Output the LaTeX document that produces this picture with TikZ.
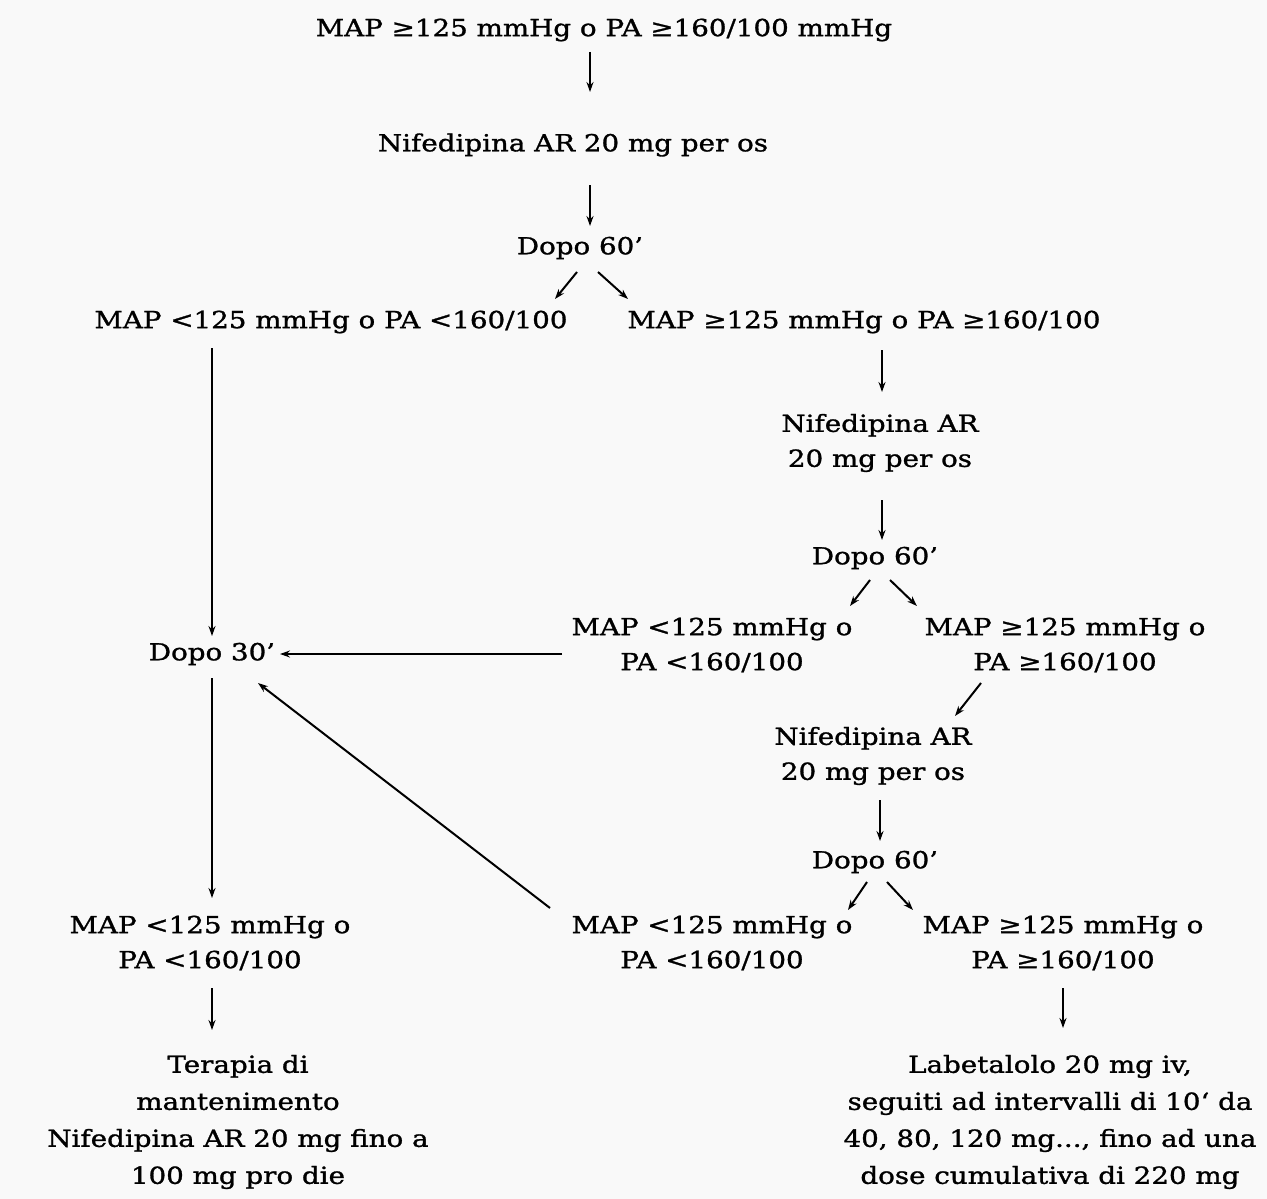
\documentclass[tikz,border=0pt]{standalone}
\usepackage{fontspec}
\setmainfont[FakeStretch=1.18,FakeBold=1.2]{DejaVu Serif}
\usetikzlibrary{arrows.meta,calc}
\begin{document}
\begin{tikzpicture}[x=1pt,y=-1pt,
  lbl/.style={inner sep=0pt,align=center,font=\fontsize{23.5}{35}\selectfont},
  lbl4/.style={inner sep=0pt,align=center,font=\fontsize{23.5}{37}\selectfont},
  arr/.style={-{Stealth[length=10pt,width=7pt]},line width=2pt}]
\fill[gray!5] (0,0) rectangle (1267,1199);
\useasboundingbox (0,0) rectangle (1267,1199);
\node[lbl] (t1) at (604,30) {MAP ≥125 mmHg o PA ≥160/100 mmHg};
\node[lbl] (n1) at (573,145) {Nifedipina AR 20 mg per os};
\node[lbl] (d1) at (580,248) {Dopo 60'};
\node[lbl] (L1) at (331,322) {MAP <125 mmHg o PA <160/100};
\node[lbl] (R1) at (864,322) {MAP ≥125 mmHg o PA ≥160/100};
\node[lbl] (n2) at (880,443) {Nifedipina AR\\20 mg per os};
\node[lbl] (d2) at (875,558) {Dopo 60'};
\node[lbl] (L2) at (712,645) {MAP <125 mmHg o\\PA <160/100};
\node[lbl] (R2) at (1065,645) {MAP ≥125 mmHg o\\PA ≥160/100};
\node[lbl] (n3) at (873,756) {Nifedipina AR\\20 mg per os};
\node[lbl] (d3) at (875,862) {Dopo 60'};
\node[lbl] (L3) at (712,943) {MAP <125 mmHg o\\PA <160/100};
\node[lbl] (R3) at (1063,943) {MAP ≥125 mmHg o\\PA ≥160/100};
\node[lbl] (D30) at (212,654) {Dopo 30'};
\node[lbl] (F1) at (210,943) {MAP <125 mmHg o\\PA <160/100};
\node[lbl4] (T) at (238,1122) {Terapia di\\mantenimento\\Nifedipina AR 20 mg fino a\\100 mg pro die};
\node[lbl4] (Lab) at (1050,1122) {Labetalolo 20 mg iv,\\seguiti ad intervalli di 10‘ da\\40, 80, 120 mg..., fino ad una\\dose cumulativa di 220 mg};
\draw[arr] ($(t1)+(-14,22)$) -- ($(n1)+(17,-53)$);
\draw[arr] ($(n1)+(17,40)$) -- ($(d1)+(10,-22)$);
\draw[arr] ($(d1)+(-3,24)$) -- ($(L1)+(224,-23)$);
\draw[arr] ($(d1)+(18,24)$) -- ($(R1)+(-236,-23)$);
\draw[arr] ($(L1)+(-119,26)$) -- ($(D30)+(0,-18)$);
\draw[arr] ($(R1)+(18,28)$) -- ($(n2)+(2,-51)$);
\draw[arr] ($(n2)+(2,57)$) -- ($(d2)+(7,-18)$);
\draw[arr] ($(d2)+(-5,22)$) -- ($(L2)+(138,-39)$);
\draw[arr] ($(d2)+(15,22)$) -- ($(R2)+(-148,-39)$);
\draw[arr] ($(L2)+(-150,9)$) -- ($(D30)+(68,0)$);
\draw[arr] ($(R2)+(-84,38)$) -- ($(n3)+(82,-40)$);
\draw[arr] ($(n3)+(7,44)$) -- ($(d3)+(5,-21)$);
\draw[arr] ($(d3)+(-8,20)$) -- ($(L3)+(136,-33)$);
\draw[arr] ($(d3)+(12,20)$) -- ($(R3)+(-150,-33)$);
\draw[arr] ($(L3)+(-162,-35)$) -- ($(D30)+(46,29)$);
\draw[arr] ($(D30)+(0,24)$) -- ($(F1)+(2,-45)$);
\draw[arr] ($(F1)+(2,45)$) -- ($(T)+(-26,-92)$);
\draw[arr] ($(R3)+(0,45)$) -- ($(Lab)+(13,-94)$);
\end{tikzpicture}
\end{document}
